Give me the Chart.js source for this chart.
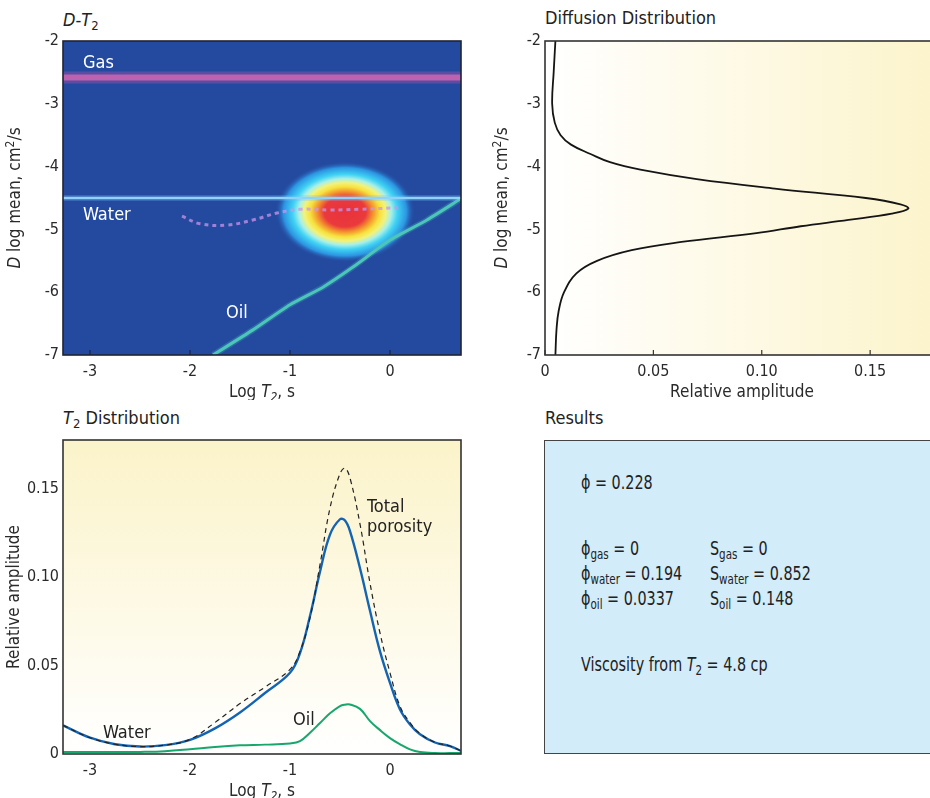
<!DOCTYPE html>
<html>
<head>
<meta charset="utf-8">
<script src="https://cdn.jsdelivr.net/npm/chart.js@4/dist/chart.umd.min.js"></script>
<style>
html, body { margin: 0; padding: 0; background: #fff; width: 930px; height: 798px; overflow: hidden; }
body { position: relative; font-family: "Liberation Sans Narrow", "DejaVu Sans Condensed", sans-serif; color: #222; }
canvas { position: absolute; }
.ttl { position: absolute; font-size: 18px; line-height: 20px; white-space: nowrap; }
#results { position: absolute; left: 544px; top: 440px; width: 420px; height: 312px; background: #d3ecf9; border: 1.5px solid #444; }
#results div { position: absolute; font-size: 19px; line-height: 20px; white-space: nowrap; transform: scaleX(0.84); transform-origin: 0 50%; }
sub { font-size: 0.72em; vertical-align: -0.3em; line-height: 0; }
</style>
</head>
<body>
<div class="ttl" style="left:63px;top:10px"><i>D</i>-<i>T</i><sub>2</sub></div>
<div class="ttl" style="left:545px;top:8px">Diffusion Distribution</div>
<div class="ttl" style="left:63px;top:408px"><i>T</i><sub>2</sub> Distribution</div>
<div class="ttl" style="left:545px;top:408px">Results</div>

<canvas id="map" width="470" height="400" style="left:0;top:0"></canvas>
<canvas id="diff" width="480" height="400" style="left:470px;top:0"></canvas>
<canvas id="t2" width="470" height="398" style="left:0;top:400px"></canvas>

<div id="results">
  <div style="left:36px;top:31px">ϕ = 0.228</div>
  <div style="left:36px;top:97px">ϕ<sub>gas</sub> = 0</div>
  <div style="left:165px;top:97px">S<sub>gas</sub> = 0</div>
  <div style="left:36px;top:122px">ϕ<sub>water</sub> = 0.194</div>
  <div style="left:165px;top:122px">S<sub>water</sub> = 0.852</div>
  <div style="left:36px;top:147px">ϕ<sub>oil</sub> = 0.0337</div>
  <div style="left:165px;top:147px">S<sub>oil</sub> = 0.148</div>
  <div style="left:36px;top:213px">Viscosity from <i>T</i><sub>2</sub> = 4.8 cp</div>
</div>

<script>
// ---- D-T2 map ----
const logT2Ticks = [-3, -2, -1, 0];
const dTicks = [-2, -3, -4, -5, -6, -7];
const mapT2Span = [-3.27, 0.71];
const gasD = -2.58;
const waterD = -4.5;
const oilLineT2 = [-1.77, -1.37, -1.0, -0.67, -0.37, 0.0, 0.37, 0.7];
const oilLineD = [-7.0, -6.6, -6.2, -5.92, -5.6, -5.17, -4.85, -4.52];
const trailT2 = [-2.08, -1.9, -1.63, -1.37, -1.13, -0.9, -0.6, -0.3, 0.0, 0.12];
const trailD = [-4.79, -4.91, -4.93, -4.85, -4.74, -4.68, -4.69, -4.68, -4.66, -4.65];
const peakT2 = -0.45, peakD = -4.72, peakSpreadT2 = 0.7, peakSpreadD = 0.8;

// ---- Diffusion distribution ----
const diffD = [-2.0, -2.5, -3.0, -3.3, -3.5, -3.65, -3.8, -3.93, -4.05, -4.2, -4.35, -4.5, -4.6, -4.67, -4.75, -4.85, -4.95, -5.06, -5.2, -5.33, -5.5, -5.7, -6.0, -6.3, -6.6, -7.0];
const diffAmp = [0.0048, 0.0040, 0.0033, 0.0045, 0.0072, 0.012, 0.021, 0.030, 0.044, 0.070, 0.106, 0.148, 0.164, 0.1676, 0.160, 0.140, 0.118, 0.0975, 0.063, 0.040, 0.024, 0.0145, 0.0088, 0.0063, 0.0053, 0.0048];
const ampTicks = [0, 0.05, 0.10, 0.15];
const ampTickLabels = ['0', '0.05', '0.10', '0.15'];

// ---- T2 distribution ----
const t2Log = [-3.27, -3.0, -2.75, -2.5, -2.25, -2.0, -1.75, -1.5, -1.25, -1.0, -0.9, -0.8, -0.7, -0.6, -0.5, -0.45, -0.4, -0.3, -0.2, -0.1, 0, 0.1, 0.2, 0.3, 0.45, 0.6, 0.71];
const totalAmp = [0.0162, 0.0092, 0.0055, 0.0042, 0.0050, 0.0083, 0.0178, 0.0285, 0.0378, 0.0478, 0.058, 0.077, 0.107, 0.139, 0.1585, 0.1615, 0.156, 0.130, 0.0966, 0.0684, 0.0459, 0.027, 0.0177, 0.0115, 0.0066, 0.0045, 0.0017];
const waterAmp = [0.0162, 0.0092, 0.0055, 0.0042, 0.0050, 0.0080, 0.0145, 0.0235, 0.0345, 0.0459, 0.057, 0.078, 0.103, 0.124, 0.1327, 0.132, 0.126, 0.105, 0.081, 0.058, 0.0402, 0.0252, 0.0167, 0.0112, 0.0065, 0.0045, 0.0017];
const oilAmp = [0.0011, 0.0011, 0.0011, 0.0012, 0.0016, 0.0027, 0.0040, 0.0049, 0.0053, 0.0060, 0.0073, 0.0120, 0.0175, 0.0230, 0.0271, 0.0279, 0.0280, 0.0255, 0.0186, 0.0135, 0.0090, 0.0055, 0.0026, 0.0011, 0.0005, 0.0005, 0.0005];
const t2AmpTicks = [0, 0.05, 0.10, 0.15];
const t2AmpLabels = ['0', '0.05', '0.10', '0.15'];

const FONT = '"Liberation Sans Narrow", "DejaVu Sans Condensed", sans-serif';
const TXT = '#2a2a2a';
Chart.defaults.font.family = FONT;
Chart.defaults.color = TXT;
Chart.defaults.animation = false;

const pts = (xs, ys) => xs.map((x, i) => ({ x: x, y: ys[i] }));

function drawRich(ctx, parts, size, cx, cy, rotate) {
    ctx.save();
    ctx.translate(cx, cy);
    if (rotate) ctx.rotate(-Math.PI / 2);
    const fontOf = p => (p.i ? 'italic ' : '') + ((p.sub || p.sup) ? Math.round(size * 0.72) : size) + 'px ' + FONT;
    let w = 0;
    parts.forEach(p => { ctx.font = fontOf(p); w += ctx.measureText(p.t).width; });
    let x = -w / 2;
    ctx.textBaseline = 'middle';
    ctx.fillStyle = TXT;
    parts.forEach(p => {
        ctx.font = fontOf(p);
        const dy = p.sub ? size * 0.28 : (p.sup ? -size * 0.3 : 0);
        ctx.fillText(p.t, x, dy);
        x += ctx.measureText(p.t).width;
    });
    ctx.restore();
}

// frame, background, inside ticks and rich axis titles
const panelPlugin = {
    id: 'panel',
    beforeDatasetsDraw(chart, args, o) {
        const a = chart.chartArea, ctx = chart.ctx;
        ctx.save();
        if (o.bg === 'map') {
            ctx.fillStyle = '#244a9f';
        } else if (o.bg === 'h') {
            const g = ctx.createLinearGradient(a.left, 0, a.left + 386, 0);
            g.addColorStop(0, '#ffffff');
            g.addColorStop(1, '#fcf4cc');
            ctx.fillStyle = g;
        } else {
            const g = ctx.createLinearGradient(0, a.top, 0, a.bottom);
            g.addColorStop(0, '#fbf3c9');
            g.addColorStop(1, '#ffffff');
            ctx.fillStyle = g;
        }
        ctx.fillRect(a.left, a.top, a.right - a.left, a.bottom - a.top);
        ctx.restore();
    },
    afterDraw(chart, args, o) {
        const a = chart.chartArea, ctx = chart.ctx;
        ctx.save();
        ctx.strokeStyle = o.frame || '#333';
        ctx.lineWidth = 1.6;
        ctx.strokeRect(a.left, a.top, a.right - a.left, a.bottom - a.top);
        if (o.innerTicks) {
            const xs = chart.scales.x;
            ctx.lineWidth = 1.2;
            ctx.beginPath();
            xs.ticks.forEach(t => {
                const px = xs.getPixelForValue(t.value);
                ctx.moveTo(px, a.bottom);
                ctx.lineTo(px, a.bottom - 5);
            });
            ctx.stroke();
        }
        ctx.restore();
        const xc = o.xTitleCenter !== undefined ? o.xTitleCenter : (a.left + a.right) / 2;
        drawRich(ctx, o.xTitle, 17, xc, a.bottom + 38, false);
        drawRich(ctx, o.yTitle, 17, o.yTitleX, (a.top + a.bottom) / 2, true);
    }
};

const logT2Title = [{ t: 'Log ' }, { t: 'T', i: true }, { t: '2', i: true, sub: true }, { t: ', s' }];
const dTitle = [{ t: 'D', i: true }, { t: ' log mean, cm' }, { t: '2', sup: true }, { t: '/s' }];
const ampTitle = [{ t: 'Relative amplitude' }];

function fixedTicks(values) {
    return s => { s.ticks = values.map(v => ({ value: v })); };
}

const tickFont = { size: 16 };

// blob in the D-T2 map
const blobPlugin = {
    id: 'blob',
    beforeDatasetsDraw(chart) {
        const a = chart.chartArea, ctx = chart.ctx;
        const xs = chart.scales.x, ys = chart.scales.y;
        const cx = xs.getPixelForValue(peakT2), cy = ys.getPixelForValue(peakD);
        const rx = Math.abs(xs.getPixelForValue(peakT2 + peakSpreadT2) - cx);
        const ry = Math.abs(ys.getPixelForValue(peakD + peakSpreadD) - cy);
        ctx.save();
        ctx.beginPath();
        ctx.rect(a.left, a.top, a.right - a.left, a.bottom - a.top);
        ctx.clip();
        ctx.translate(cx, cy);
        ctx.scale(rx, ry);
        const g = ctx.createRadialGradient(0, 0, 0, 0, 0, 1);
        g.addColorStop(0, '#e8323c');
        g.addColorStop(0.3, '#ea3a3c');
        g.addColorStop(0.4, '#f3922e');
        g.addColorStop(0.5, '#f7e23e');
        g.addColorStop(0.58, '#f2f27a');
        g.addColorStop(0.66, '#a8f0e8');
        g.addColorStop(0.75, '#3fd2f4');
        g.addColorStop(0.88, '#2c94e2');
        g.addColorStop(1, 'rgba(36,74,159,0)');
        ctx.fillStyle = g;
        ctx.beginPath();
        ctx.arc(0, 0, 1, 0, Math.PI * 2);
        ctx.fill();
        ctx.restore();
    }
};

// text labels placed at data positions
const labelPlugin = {
    id: 'labels',
    afterDatasetsDraw(chart, args, o) {
        const ctx = chart.ctx, xs = chart.scales.x, ys = chart.scales.y;
        ctx.save();
        ctx.font = '18px ' + FONT;
        ctx.fillStyle = o.color;
        ctx.textBaseline = 'middle';
        o.items.forEach(it => ctx.fillText(it.t, xs.getPixelForValue(it.x), ys.getPixelForValue(it.y)));
        ctx.restore();
    }
};

const flat = (y) => [{ x: mapT2Span[0], y: y }, { x: mapT2Span[1], y: y }];

new Chart(document.getElementById('map'), {
    type: 'scatter',
    data: {
        datasets: [
            { data: pts(trailT2, trailD), showLine: true, borderColor: 'rgba(200,150,235,0.75)', borderWidth: 3, borderDash: [4, 4], tension: 0.4, pointRadius: 0 },
            { data: flat(waterD), showLine: true, borderColor: '#8fd2fa', borderWidth: 2.5, pointRadius: 0 },
            { data: flat(waterD), showLine: true, borderColor: 'rgba(110,190,255,0.25)', borderWidth: 6, pointRadius: 0 },
            { data: pts(oilLineT2, oilLineD), showLine: true, borderColor: '#4cc6b8', borderWidth: 3, tension: 0.2, pointRadius: 0 },
            { data: pts(oilLineT2, oilLineD), showLine: true, borderColor: 'rgba(70,200,190,0.25)', borderWidth: 6, tension: 0.2, pointRadius: 0 },
            { data: flat(gasD), showLine: true, borderColor: '#bb62b0', borderWidth: 6, pointRadius: 0 },
            { data: flat(gasD), showLine: true, borderColor: 'rgba(170,85,170,0.4)', borderWidth: 12, pointRadius: 0 }
        ]
    },
    options: {
        responsive: false,
        layout: { padding: { top: 41, right: 9, left: 0, bottom: 0 } },
        plugins: {
            legend: { display: false }, tooltip: { enabled: false },
            panel: { bg: 'map', frame: '#1e2433', innerTicks: true, xTitle: logT2Title, yTitle: dTitle, yTitleX: 16 },
            labels: { color: '#ffffff', items: [{ t: 'Gas', x: -3.07, y: -2.35 }, { t: 'Water', x: -3.07, y: -4.77 }, { t: 'Oil', x: -1.64, y: -6.33 }] }
        },
        scales: {
            x: {
                type: 'linear', min: mapT2Span[0], max: mapT2Span[1],
                afterBuildTicks: fixedTicks(logT2Ticks), afterFit: s => { s.height = 45; },
                grid: { display: false, drawTicks: false }, border: { display: false },
                ticks: { font: tickFont, padding: 7, callback: v => String(v) }
            },
            y: {
                type: 'linear', min: -7, max: -2,
                afterBuildTicks: fixedTicks(dTicks), afterFit: s => { s.width = 63; },
                grid: { display: false, drawTicks: false }, border: { display: false },
                ticks: { font: tickFont, padding: 4, callback: v => String(v) }
            }
        }
    },
    plugins: [panelPlugin, blobPlugin, labelPlugin]
});

new Chart(document.getElementById('diff'), {
    type: 'scatter',
    data: {
        datasets: [
            { data: pts(diffAmp, diffD), showLine: true, borderColor: '#151515', borderWidth: 1.8, tension: 0.4, pointRadius: 0 }
        ]
    },
    options: {
        responsive: false,
        layout: { padding: { top: 41, right: 4, left: 0, bottom: 0 } },
        plugins: {
            legend: { display: false }, tooltip: { enabled: false },
            panel: { bg: 'h', innerTicks: true, xTitle: ampTitle, yTitle: dTitle, yTitleX: 33, xTitleCenter: 272 }
        },
        scales: {
            x: {
                type: 'linear', min: 0, max: 0.185,
                afterBuildTicks: fixedTicks(ampTicks), afterFit: s => { s.height = 45; },
                grid: { display: false, drawTicks: false }, border: { display: false },
                ticks: { font: tickFont, padding: 7, callback: v => ampTickLabels[ampTicks.indexOf(v)] }
            },
            y: {
                type: 'linear', min: -7, max: -2,
                afterBuildTicks: fixedTicks(dTicks), afterFit: s => { s.width = 75; },
                grid: { display: false, drawTicks: false }, border: { display: false },
                ticks: { font: tickFont, padding: 4, callback: v => String(v) }
            }
        }
    },
    plugins: [panelPlugin]
});

new Chart(document.getElementById('t2'), {
    type: 'line',
    data: {
        labels: t2Log,
        datasets: [
            { data: pts(t2Log, totalAmp), borderColor: '#222', borderWidth: 1.2, borderDash: [5, 4], tension: 0.4, pointRadius: 0 },
            { data: pts(t2Log, waterAmp), borderColor: '#1464b4', borderWidth: 2.4, tension: 0.4, pointRadius: 0 },
            { data: pts(t2Log, oilAmp), borderColor: '#17a66c', borderWidth: 2, tension: 0.4, pointRadius: 0 }
        ]
    },
    options: {
        responsive: false,
        layout: { padding: { top: 40, right: 9, left: 0, bottom: 0 } },
        plugins: {
            legend: { display: false }, tooltip: { enabled: false },
            panel: { bg: 'v', xTitle: logT2Title, yTitle: ampTitle, yTitleX: 15 },
            labels: { color: '#222', items: [{ t: 'Water', x: -2.87, y: 0.0118 }, { t: 'Oil', x: -0.97, y: 0.019 }, { t: 'Total', x: -0.23, y: 0.1395 }, { t: 'porosity', x: -0.23, y: 0.128 }] }
        },
        scales: {
            x: {
                type: 'linear', min: mapT2Span[0], max: mapT2Span[1],
                afterBuildTicks: fixedTicks(logT2Ticks), afterFit: s => { s.height = 44; },
                grid: { display: false, drawTicks: false }, border: { display: false },
                ticks: { font: tickFont, padding: 7, callback: v => String(v) }
            },
            y: {
                type: 'linear', min: 0, max: 0.1775,
                afterBuildTicks: fixedTicks(t2AmpTicks), afterFit: s => { s.width = 63; },
                grid: { display: false, drawTicks: false }, border: { display: false },
                ticks: { font: tickFont, padding: 4, callback: v => t2AmpLabels[t2AmpTicks.indexOf(v)] }
            }
        }
    },
    plugins: [panelPlugin, labelPlugin]
});
</script>
</body>
</html>
